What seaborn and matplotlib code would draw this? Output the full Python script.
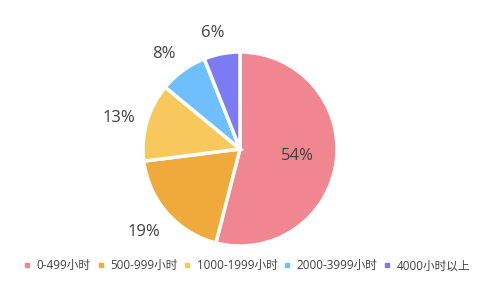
import matplotlib
matplotlib.use("Agg")
import matplotlib.pyplot as plt
import seaborn as sns
import numpy as np
from matplotlib.lines import Line2D

categories = ["0-499小时", "500-999小时", "1000-1999小时", "2000-3999小时", "4000小时以上"]
values = [54, 19, 13, 8, 6]
colors = ["#F08790", "#F0A93B", "#F7C95C", "#6FBEFE", "#7B7CF3"]

sns.set_theme(style="white")
plt.rcParams['font.family'] = ['Open Sans', 'Noto Sans CJK SC', 'DejaVu Sans']
palette = sns.color_palette(colors)

W, H = 481, 298
fig = plt.figure(figsize=(W / 100, H / 100), dpi=100)
fig.patch.set_facecolor("white")
cx, cy, r = 240, 149, 97
k = 1.4
ax = fig.add_axes([(cx - k * r) / W, (cy - k * r) / H, 2 * k * r / W, 2 * k * r / H])

wedges, texts = ax.pie(values, colors=palette, startangle=90, counterclock=False,
                       wedgeprops=dict(edgecolor="white", linewidth=2.5),
                       radius=1, center=(0, 0), frame=False)
ax.set_xlim(-k, k)
ax.set_ylim(-k, k)
ax.set_aspect("equal")
ax.axis("off")

total = sum(values)
start = 90
for i, v in enumerate(values):
    ang = start - 360 * (v / total) / 2
    start -= 360 * v / total
    if i == 0:
        x = 0.6 * np.cos(np.radians(ang))
        y = 0.6 * np.sin(np.radians(ang))
    else:
        x = 1.25 * np.cos(np.radians(ang)) - 0.05
        y = 1.25 * np.sin(np.radians(ang)) - 0.03
    ax.text(x, y, f"{v}%", ha="center", va="center", fontsize=12, color="#404040")

handles = [Line2D([0], [0], marker="s", linestyle="", markersize=3.5,
                  markerfacecolor=c, markeredgecolor=c) for c in palette]
fig.legend(handles, categories, loc="center", bbox_to_anchor=(247 / W, 1 - 266 / H),
           ncol=5, frameon=False, fontsize=8.4, handlelength=0.6, handletextpad=0.5,
           columnspacing=0.55, labelcolor="#404040")

fig.savefig("out.png", dpi=100, facecolor="white")
